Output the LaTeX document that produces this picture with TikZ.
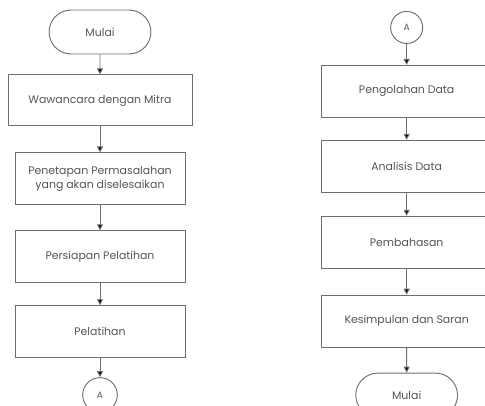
\documentclass[tikz,border=0pt]{standalone}
\usepackage{fontspec}
\setmainfont{Poppins}
\usepackage{tikz}
\usetikzlibrary{positioning, shapes.misc, shapes.geometric, arrows.meta}

\definecolor{linegray}{HTML}{6E6E6E}
\definecolor{textgray}{HTML}{555555}

\begin{document}
\begin{tikzpicture}[
            process/.style={draw=linegray, line width=0.7pt, rectangle, minimum width=127.5pt, minimum height=39pt, align=center, font=\fontsize{8.2}{11}\selectfont, text=textgray},
            terminal/.style={draw=linegray, line width=0.7pt, rounded rectangle, minimum width=83pt, minimum height=33pt, font=\fontsize{8.2}{11}\selectfont, text=textgray},
            connector/.style={draw=linegray, line width=0.7pt, circle, minimum size=26pt, inner sep=0pt, font=\fontsize{6.8}{8}\selectfont, text=textgray},
            flow/.style={draw=linegray, line width=0.7pt, -{Triangle[length=4.5pt, width=4.5pt, fill=black]}}
        ]

        \useasboundingbox (0,0) rectangle (363.75pt,-304.5pt);

        % Kolom kiri
        \node[terminal] (mulaiA) at (75pt,-24pt) {Mulai};
        \node[process, minimum width=138pt, minimum height=38.25pt, below=15pt of mulaiA] (wawancara) {Wawancara dengan Mitra};
        \node[process, below=19.5pt of wawancara] (penetapan) {Penetapan Permasalahan\\yang akan diselesaikan};
        \node[process, below=18.75pt of penetapan] (persiapan) {Persiapan Pelatihan};
        \node[process, below=16.5pt of persiapan] (pelatihan) {Pelatihan};
        \node[connector, below=14.25pt of pelatihan] (konA) {A};

        % Kolom kanan
        \node[connector, minimum size=24pt] (konB) at (305pt,-20.6pt) {A};
        \node[process, below=15.75pt of konB] (pengolahan) {Pengolahan Data};
        \node[process, below=16.5pt of pengolahan] (analisis) {Analisis Data};
        \node[process, below=17.25pt of analisis] (pembahasan) {Pembahasan};
        \node[process, below=19.5pt of pembahasan] (kesimpulan) {Kesimpulan dan Saran};
        \node[terminal, below=18.75pt of kesimpulan] (mulaiB) {Mulai};

        % Panah
        \draw[flow] (mulaiA) -- (wawancara);
        \draw[flow] (wawancara) -- (penetapan);
        \draw[flow] (penetapan) -- (persiapan);
        \draw[flow] (persiapan) -- (pelatihan);
        \draw[flow] (pelatihan) -- (konA);
        \draw[flow] (konB) -- (pengolahan);
        \draw[flow] (pengolahan) -- (analisis);
        \draw[flow] (analisis) -- (pembahasan);
        \draw[flow] (pembahasan) -- (kesimpulan);
        \draw[flow] (kesimpulan) -- (mulaiB);

    \end{tikzpicture}
\end{document}
